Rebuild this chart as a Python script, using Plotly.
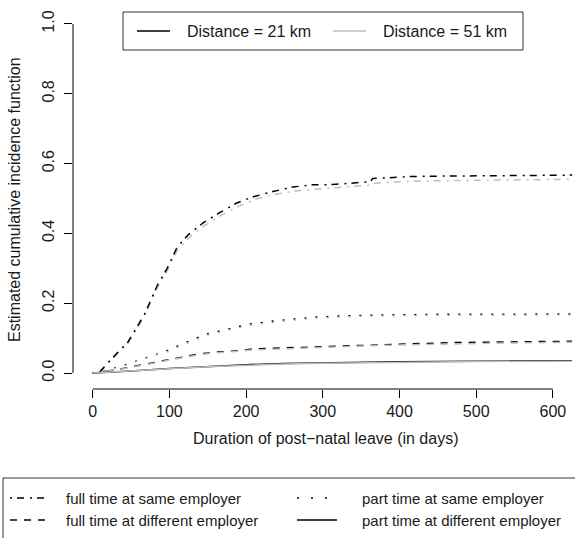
import plotly.graph_objects as go

# Estimated cumulative incidence of return to work by post-natal leave duration
ft_same_21_days = [0, 10, 23, 46, 68, 84, 97, 110, 124, 144, 166, 188, 208, 235, 261, 287, 313, 340, 362, 365, 390, 416, 450, 500, 550, 600, 625]
ft_same_21_vals = [0, 0.005, 0.037, 0.089, 0.17, 0.25, 0.30, 0.36, 0.395, 0.43, 0.46, 0.487, 0.504, 0.52, 0.533, 0.539, 0.54, 0.544, 0.548, 0.557, 0.561, 0.563, 0.564, 0.565, 0.566, 0.567, 0.567]

ft_same_51_days = [0, 10, 23, 46, 68, 84, 97, 110, 124, 144, 166, 188, 214, 240, 266, 292, 318, 344, 362, 368, 394, 420, 500, 600, 625]
ft_same_51_vals = [0, 0.004, 0.035, 0.085, 0.165, 0.243, 0.292, 0.35, 0.385, 0.42, 0.45, 0.476, 0.499, 0.513, 0.522, 0.527, 0.533, 0.536, 0.538, 0.544, 0.547, 0.55, 0.552, 0.554, 0.555]

pt_same_days = [0, 10, 42, 68, 96, 123, 149, 176, 204, 240, 274, 289, 320, 369, 450, 550, 625]
pt_same_21_vals = [0, 0.003, 0.023, 0.043, 0.063, 0.089, 0.112, 0.126, 0.14, 0.15, 0.156, 0.16, 0.163, 0.166, 0.168, 0.169, 0.169]
pt_same_51_vals = [0, 0.003, 0.021, 0.041, 0.060, 0.085, 0.108, 0.122, 0.136, 0.146, 0.153, 0.157, 0.160, 0.163, 0.165, 0.166, 0.166]

ft_diff_days = [0, 10, 42, 77, 97, 117, 137, 163, 190, 208, 250, 279, 336, 392, 466, 540, 625]
ft_diff_21_vals = [0, 0.002, 0.014, 0.029, 0.037, 0.047, 0.054, 0.06, 0.064, 0.069, 0.072, 0.075, 0.079, 0.083, 0.087, 0.089, 0.091]
ft_diff_51_vals = [0, 0.002, 0.013, 0.027, 0.035, 0.045, 0.052, 0.058, 0.062, 0.066, 0.069, 0.072, 0.076, 0.080, 0.084, 0.086, 0.088]

pt_diff_days = [0, 10, 50, 100, 150, 200, 250, 300, 400, 500, 625]
pt_diff_21_vals = [0, 0.001, 0.006, 0.013, 0.019, 0.024, 0.027, 0.029, 0.032, 0.034, 0.035]
pt_diff_51_vals = [0, 0.001, 0.006, 0.012, 0.018, 0.023, 0.026, 0.028, 0.031, 0.033, 0.034]

x_ticks = [0, 100, 200, 300, 400, 500, 600]
y_ticks = [0.0, 0.2, 0.4, 0.6, 0.8, 1.0]
y_ticktext = ["0.0", "0.2", "0.4", "0.6", "0.8", "1.0"]

BLACK = "#000000"
GRAY = "#BEBEBE"
TEXT = "#1a1a1a"
DOTDASH = "2px,5px,7px,6px"
DASH = "7px,7px"
DOT = "2px,9px"
FONT = "Liberation Sans, Arial, sans-serif"

W, H = 575, 538
L, R, T, B = 73, 0, 10, 149
PW, PH = W - L - R, H - T - B


def px_x(p):
    return (p - L) / PW


def px_y(p):
    return (H - B - p) / PH


series = [
    (ft_same_51_days, ft_same_51_vals, GRAY, DOTDASH),
    (ft_same_21_days, ft_same_21_vals, BLACK, DOTDASH),
    (pt_same_days, pt_same_21_vals, BLACK, DOT),
    (pt_same_days, pt_same_51_vals, GRAY, DOT),
    (ft_diff_days, ft_diff_21_vals, BLACK, DASH),
    (ft_diff_days, ft_diff_51_vals, GRAY, DASH),
    (pt_diff_days, pt_diff_21_vals, BLACK, "solid"),
    (pt_diff_days, pt_diff_51_vals, GRAY, "solid"),
]

fig = go.Figure()
for xs, ys, col, dash in series:
    fig.add_trace(go.Scatter(x=xs, y=ys, mode="lines", showlegend=False,
                             line=dict(color=col, width=1.5, dash=dash)))

shapes = [
    # axis lines spanning the tick range only
    dict(type="line", xref="x", yref="paper", x0=x_ticks[0], x1=x_ticks[-1], y0=0, y1=0,
         line=dict(color=BLACK, width=1)),
    dict(type="line", xref="paper", yref="y", x0=0, x1=0, y0=y_ticks[0], y1=y_ticks[-1],
         line=dict(color=BLACK, width=1)),
    # top legend box and samples
    dict(type="rect", xref="paper", yref="paper", x0=px_x(123), x1=px_x(523), y0=px_y(50), y1=px_y(12),
         line=dict(color="#333333", width=1)),
    dict(type="line", xref="paper", yref="paper", x0=px_x(137), x1=px_x(170), y0=px_y(31), y1=px_y(31),
         line=dict(color=BLACK, width=1.6)),
    dict(type="line", xref="paper", yref="paper", x0=px_x(333), x1=px_x(366), y0=px_y(31), y1=px_y(31),
         line=dict(color=GRAY, width=1.6)),
    # bottom legend box and samples
    dict(type="rect", xref="paper", yref="paper", x0=px_x(3), x1=px_x(620), y0=px_y(600), y1=px_y(478),
         line=dict(color="#333333", width=1)),
    dict(type="line", xref="paper", yref="paper", x0=px_x(10), x1=px_x(47), y0=px_y(498), y1=px_y(498),
         line=dict(color=BLACK, width=1.3, dash=DOTDASH)),
    dict(type="line", xref="paper", yref="paper", x0=px_x(10), x1=px_x(47), y0=px_y(520), y1=px_y(520),
         line=dict(color=BLACK, width=1.3, dash=DASH)),
    dict(type="line", xref="paper", yref="paper", x0=px_x(297), x1=px_x(337), y0=px_y(498), y1=px_y(498),
         line=dict(color=BLACK, width=1.3, dash="2px,12px")),
    dict(type="line", xref="paper", yref="paper", x0=px_x(297), x1=px_x(337), y0=px_y(520), y1=px_y(520),
         line=dict(color=BLACK, width=1.3)),
]

top_font = dict(family=FONT, size=16, color=TEXT)
leg_font = dict(family=FONT, size=15, color=TEXT)
title_font = dict(family=FONT, size=16, color=TEXT)
annotations = [
    dict(text="Distance = 21 km", x=px_x(185), y=px_y(31), xanchor="left", yanchor="middle", font=top_font),
    dict(text="Distance = 51 km", x=px_x(381), y=px_y(31), xanchor="left", yanchor="middle", font=top_font),
    dict(text="full time at same employer", x=px_x(64), y=px_y(498), xanchor="left", yanchor="middle", font=leg_font),
    dict(text="full time at different employer", x=px_x(64), y=px_y(520), xanchor="left", yanchor="middle", font=leg_font),
    dict(text="part time at same employer", x=px_x(360), y=px_y(498), xanchor="left", yanchor="middle", font=leg_font),
    dict(text="part time at different employer", x=px_x(360), y=px_y(520), xanchor="left", yanchor="middle", font=leg_font),
    dict(text="Duration of post\u2212natal leave (in days)", x=px_x(325), y=px_y(438),
         xanchor="center", yanchor="middle", font=title_font),
    dict(text="Estimated cumulative incidence function", x=px_x(14), y=px_y(200),
         xanchor="center", yanchor="middle", textangle=-90, font=title_font),
]
for a in annotations:
    a.update(xref="paper", yref="paper", showarrow=False)

tick_font = dict(family=FONT, size=16, color=TEXT)
fig.update_layout(
    width=W, height=H,
    margin=dict(l=L, r=R, t=T, b=B, pad=0),
    paper_bgcolor="white", plot_bgcolor="white",
    font=dict(family=FONT, size=16, color=TEXT),
    shapes=shapes, annotations=annotations,
    xaxis=dict(range=[-25.7, 628.8], tickvals=x_ticks, ticks="outside", ticklen=8,
               tickcolor=BLACK, showline=False, showgrid=False, zeroline=False,
               tickfont=tick_font),
    yaxis=dict(range=[-0.0458, 1.040], tickvals=y_ticks, ticktext=y_ticktext, tickangle=-90,
               ticks="outside", ticklen=8, tickcolor=BLACK, showline=False, showgrid=False,
               zeroline=False, tickfont=tick_font, ticklabelstandoff=4),
)

fig.write_html("out.html")
